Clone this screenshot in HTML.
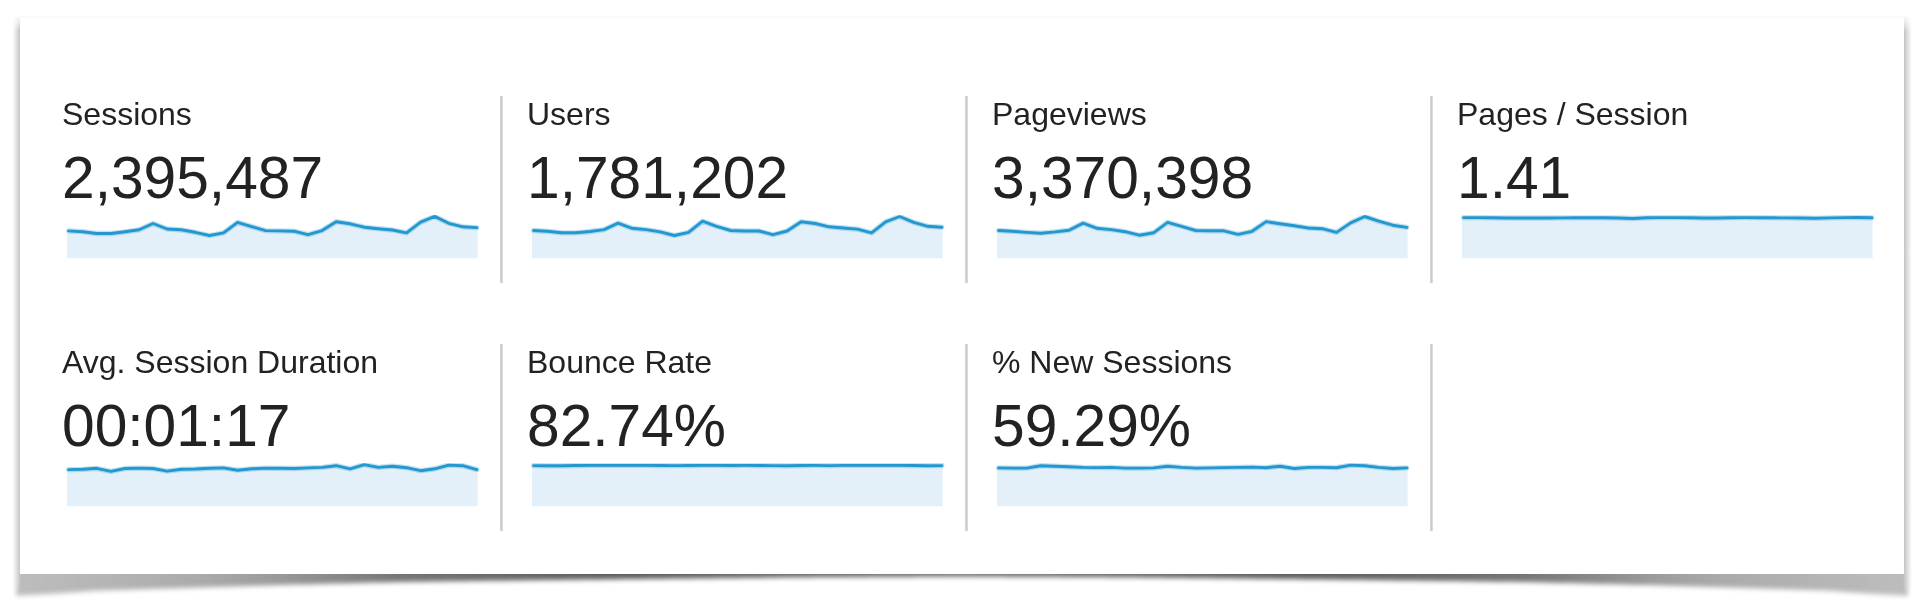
<!DOCTYPE html>
<html><head><meta charset="utf-8"><title>Audience Overview</title>
<style>
html,body{margin:0;padding:0;background:#fff;}
body{width:1920px;height:614px;overflow:hidden;position:relative;}
svg{position:absolute;left:0;top:0;will-change:transform;}
text{font-family:"Liberation Sans",Arial,sans-serif;fill:#222;}
</style></head>
<body>
<svg width="1920" height="614" viewBox="0 0 1920 614">
<defs>
<filter id="b1" x="-10%" y="-100%" width="120%" height="300%"><feGaussianBlur stdDeviation="1"/></filter>
<linearGradient id="gl" x1="0" y1="0" x2="1" y2="0"><stop offset="0" stop-color="#fafafa"/><stop offset="0.4" stop-color="#e6e6e6"/><stop offset="1" stop-color="#c2c2c2"/></linearGradient>
<linearGradient id="gr" x1="0" y1="0" x2="1" y2="0"><stop offset="0" stop-color="#c2c2c2"/><stop offset="0.6" stop-color="#e6e6e6"/><stop offset="1" stop-color="#fcfcfc"/></linearGradient>
<mask id="mfade" maskUnits="userSpaceOnUse" x="0" y="0" width="1920" height="614"><rect x="0" y="0" width="1920" height="614" fill="url(#gfade)"/></mask>
<linearGradient id="gfade" gradientUnits="userSpaceOnUse" x1="0" y1="17" x2="0" y2="597"><stop offset="0" stop-color="#000"/><stop offset="0.024" stop-color="#fff"/><stop offset="0.975" stop-color="#fff"/><stop offset="1" stop-color="#000"/></linearGradient>
<linearGradient id="gbs" gradientUnits="userSpaceOnUse" x1="16" y1="0" x2="1908" y2="0"><stop offset="0.0000" stop-color="#000" stop-opacity="0.260"/><stop offset="0.0127" stop-color="#000" stop-opacity="0.267"/><stop offset="0.0254" stop-color="#000" stop-opacity="0.276"/><stop offset="0.0381" stop-color="#000" stop-opacity="0.285"/><stop offset="0.0507" stop-color="#000" stop-opacity="0.295"/><stop offset="0.0634" stop-color="#000" stop-opacity="0.304"/><stop offset="0.0761" stop-color="#000" stop-opacity="0.314"/><stop offset="0.0888" stop-color="#000" stop-opacity="0.324"/><stop offset="0.1015" stop-color="#000" stop-opacity="0.337"/><stop offset="0.1142" stop-color="#000" stop-opacity="0.357"/><stop offset="0.1268" stop-color="#000" stop-opacity="0.377"/><stop offset="0.1395" stop-color="#000" stop-opacity="0.403"/><stop offset="0.1522" stop-color="#000" stop-opacity="0.430"/><stop offset="0.1649" stop-color="#000" stop-opacity="0.458"/><stop offset="0.1776" stop-color="#000" stop-opacity="0.485"/><stop offset="0.1903" stop-color="#000" stop-opacity="0.513"/><stop offset="0.2030" stop-color="#000" stop-opacity="0.540"/><stop offset="0.2156" stop-color="#000" stop-opacity="0.551"/><stop offset="0.2283" stop-color="#000" stop-opacity="0.562"/><stop offset="0.2410" stop-color="#000" stop-opacity="0.573"/><stop offset="0.2537" stop-color="#000" stop-opacity="0.585"/><stop offset="0.2664" stop-color="#000" stop-opacity="0.596"/><stop offset="0.2791" stop-color="#000" stop-opacity="0.607"/><stop offset="0.2918" stop-color="#000" stop-opacity="0.618"/><stop offset="0.3044" stop-color="#000" stop-opacity="0.629"/><stop offset="0.3171" stop-color="#000" stop-opacity="0.640"/><stop offset="0.3298" stop-color="#000" stop-opacity="0.635"/><stop offset="0.3425" stop-color="#000" stop-opacity="0.629"/><stop offset="0.3552" stop-color="#000" stop-opacity="0.624"/><stop offset="0.3679" stop-color="#000" stop-opacity="0.619"/><stop offset="0.3805" stop-color="#000" stop-opacity="0.614"/><stop offset="0.3932" stop-color="#000" stop-opacity="0.609"/><stop offset="0.4059" stop-color="#000" stop-opacity="0.603"/><stop offset="0.4186" stop-color="#000" stop-opacity="0.599"/><stop offset="0.4313" stop-color="#000" stop-opacity="0.596"/><stop offset="0.4440" stop-color="#000" stop-opacity="0.593"/><stop offset="0.4567" stop-color="#000" stop-opacity="0.590"/><stop offset="0.4693" stop-color="#000" stop-opacity="0.587"/><stop offset="0.4820" stop-color="#000" stop-opacity="0.584"/><stop offset="0.4947" stop-color="#000" stop-opacity="0.581"/><stop offset="0.5074" stop-color="#000" stop-opacity="0.582"/><stop offset="0.5201" stop-color="#000" stop-opacity="0.585"/><stop offset="0.5328" stop-color="#000" stop-opacity="0.588"/><stop offset="0.5455" stop-color="#000" stop-opacity="0.591"/><stop offset="0.5581" stop-color="#000" stop-opacity="0.594"/><stop offset="0.5708" stop-color="#000" stop-opacity="0.597"/><stop offset="0.5835" stop-color="#000" stop-opacity="0.600"/><stop offset="0.5962" stop-color="#000" stop-opacity="0.604"/><stop offset="0.6089" stop-color="#000" stop-opacity="0.610"/><stop offset="0.6216" stop-color="#000" stop-opacity="0.615"/><stop offset="0.6342" stop-color="#000" stop-opacity="0.620"/><stop offset="0.6469" stop-color="#000" stop-opacity="0.625"/><stop offset="0.6596" stop-color="#000" stop-opacity="0.630"/><stop offset="0.6723" stop-color="#000" stop-opacity="0.635"/><stop offset="0.6850" stop-color="#000" stop-opacity="0.639"/><stop offset="0.6977" stop-color="#000" stop-opacity="0.627"/><stop offset="0.7104" stop-color="#000" stop-opacity="0.616"/><stop offset="0.7230" stop-color="#000" stop-opacity="0.605"/><stop offset="0.7357" stop-color="#000" stop-opacity="0.594"/><stop offset="0.7484" stop-color="#000" stop-opacity="0.583"/><stop offset="0.7611" stop-color="#000" stop-opacity="0.572"/><stop offset="0.7738" stop-color="#000" stop-opacity="0.560"/><stop offset="0.7865" stop-color="#000" stop-opacity="0.549"/><stop offset="0.7992" stop-color="#000" stop-opacity="0.535"/><stop offset="0.8118" stop-color="#000" stop-opacity="0.508"/><stop offset="0.8245" stop-color="#000" stop-opacity="0.481"/><stop offset="0.8372" stop-color="#000" stop-opacity="0.453"/><stop offset="0.8499" stop-color="#000" stop-opacity="0.426"/><stop offset="0.8626" stop-color="#000" stop-opacity="0.398"/><stop offset="0.8753" stop-color="#000" stop-opacity="0.373"/><stop offset="0.8879" stop-color="#000" stop-opacity="0.353"/><stop offset="0.9006" stop-color="#000" stop-opacity="0.333"/><stop offset="0.9133" stop-color="#000" stop-opacity="0.322"/><stop offset="0.9260" stop-color="#000" stop-opacity="0.312"/><stop offset="0.9387" stop-color="#000" stop-opacity="0.303"/><stop offset="0.9514" stop-color="#000" stop-opacity="0.293"/><stop offset="0.9641" stop-color="#000" stop-opacity="0.284"/><stop offset="0.9767" stop-color="#000" stop-opacity="0.274"/><stop offset="0.9894" stop-color="#000" stop-opacity="0.265"/><stop offset="1.0000" stop-color="#000" stop-opacity="0.260"/></linearGradient><filter id="bsblur" x="-2%" y="-100%" width="104%" height="300%"><feGaussianBlur stdDeviation="2.2 2.4"/></filter>
<clipPath id="c0"><rect x="65" y="215.1" width="414.6" height="43.5"/></clipPath><clipPath id="c1"><rect x="530" y="215.1" width="414.6" height="43.5"/></clipPath><clipPath id="c2"><rect x="995" y="215.1" width="414.6" height="43.5"/></clipPath><clipPath id="c3"><rect x="1460" y="215.1" width="414.6" height="43.5"/></clipPath><clipPath id="c4"><rect x="65" y="463.1" width="414.6" height="43.5"/></clipPath><clipPath id="c5"><rect x="530" y="463.1" width="414.6" height="43.5"/></clipPath><clipPath id="c6"><rect x="995" y="463.1" width="414.6" height="43.5"/></clipPath>
</defs>
<!-- bottom curled shadow -->
<path d="M16,566 L1908,566 L1908,595.5 L1904,595.5 L1896,595.1 L1888,594.7 L1880,594.3 L1872,593.86 L1864,593.3 L1856,592.74 L1848,592.18 L1840,591.62 L1832,591.06 L1824,590.5 L1816,590.26 L1808,590.02 L1800,589.78 L1792,589.54 L1784,589.3 L1776,589.06 L1768,588.82 L1760,588.58 L1752,588.34 L1744,588.1 L1736,587.86 L1728,587.62 L1720,587.37 L1712,587.1 L1704,586.83 L1696,586.57 L1688,586.3 L1680,586.03 L1672,585.77 L1664,585.5 L1656,585.3 L1648,585.1 L1640,584.9 L1632,584.7 L1624,584.5 L1616,584.3 L1608,584.1 L1600,583.9 L1592,583.7 L1584,583.5 L1576,583.3 L1568,583.1 L1560,582.9 L1552,582.7 L1544,582.5 L1536,582.3 L1528,582.1 L1520,581.95 L1512,581.84 L1504,581.74 L1496,581.64 L1488,581.53 L1480,581.43 L1472,581.32 L1464,581.22 L1456,581.11 L1448,581.01 L1440,580.91 L1432,580.8 L1424,580.7 L1416,580.59 L1408,580.49 L1400,580.39 L1392,580.28 L1384,580.18 L1376,580.07 L1368,579.97 L1360,579.86 L1352,579.76 L1344,579.66 L1336,579.55 L1328,579.45 L1320,579.34 L1312,579.24 L1304,579.15 L1296,579.06 L1288,578.97 L1280,578.89 L1272,578.8 L1264,578.71 L1256,578.63 L1248,578.54 L1240,578.45 L1232,578.37 L1224,578.28 L1216,578.19 L1208,578.11 L1200,578.02 L1192,577.94 L1184,577.85 L1176,577.76 L1168,577.68 L1160,577.59 L1152,577.5 L1144,577.42 L1136,577.33 L1128,577.24 L1120,577.18 L1112,577.14 L1104,577.1 L1096,577.06 L1088,577.02 L1080,576.98 L1072,576.94 L1064,576.9 L1056,576.86 L1048,576.82 L1040,576.79 L1032,576.75 L1024,576.71 L1016,576.67 L1008,576.63 L1000,576.59 L992,576.55 L984,576.51 L976,576.47 L968,576.43 L960,576.41 L952,576.45 L944,576.49 L936,576.53 L928,576.57 L920,576.61 L912,576.65 L904,576.69 L896,576.73 L888,576.77 L880,576.8 L872,576.84 L864,576.88 L856,576.92 L848,576.96 L840,577 L832,577.04 L824,577.08 L816,577.12 L808,577.16 L800,577.2 L792,577.29 L784,577.37 L776,577.46 L768,577.55 L760,577.63 L752,577.72 L744,577.81 L736,577.89 L728,577.98 L720,578.06 L712,578.15 L704,578.24 L696,578.32 L688,578.41 L680,578.5 L672,578.58 L664,578.67 L656,578.76 L648,578.84 L640,578.93 L632,579.02 L624,579.1 L616,579.19 L608,579.29 L600,579.4 L592,579.5 L584,579.6 L576,579.71 L568,579.81 L560,579.92 L552,580.02 L544,580.12 L536,580.23 L528,580.33 L520,580.44 L512,580.54 L504,580.65 L496,580.75 L488,580.85 L480,580.96 L472,581.06 L464,581.17 L456,581.27 L448,581.37 L440,581.48 L432,581.58 L424,581.69 L416,581.79 L408,581.9 L400,582 L392,582.2 L384,582.4 L376,582.6 L368,582.8 L360,583 L352,583.2 L344,583.4 L336,583.6 L328,583.8 L320,584 L312,584.2 L304,584.4 L296,584.6 L288,584.8 L280,585 L272,585.2 L264,585.4 L256,585.63 L248,585.9 L240,586.17 L232,586.43 L224,586.7 L216,586.97 L208,587.23 L200,587.5 L192,587.74 L184,587.98 L176,588.22 L168,588.46 L160,588.7 L152,588.94 L144,589.18 L136,589.42 L128,589.66 L120,589.9 L112,590.14 L104,590.38 L96,590.78 L88,591.34 L80,591.9 L72,592.46 L64,593.02 L56,593.58 L48,594.1 L40,594.5 L32,594.9 L24,595.3 L16,595.5 Z" fill="url(#gbs)" filter="url(#bsblur)"/>
<!-- side shadows -->
<g mask="url(#mfade)">
<rect x="12.9" y="17" width="7.3" height="580" fill="url(#gl)"/>
<rect x="1903.8" y="17" width="7.8" height="580" fill="url(#gr)"/>
</g>
<!-- top faint shadow -->
<rect x="15" y="16.6" width="1893" height="3.6" fill="#000" fill-opacity="0.03" filter="url(#b1)"/>
<!-- card -->
<rect x="20" y="18" width="1884" height="556" fill="#fff"/>
<rect x="500.2" y="96" width="2.5" height="187" fill="#cbcbcb"/><rect x="965.2" y="96" width="2.5" height="187" fill="#cbcbcb"/><rect x="1430.2" y="96" width="2.5" height="187" fill="#cbcbcb"/><rect x="500.2" y="344" width="2.5" height="187" fill="#cbcbcb"/><rect x="965.2" y="344" width="2.5" height="187" fill="#cbcbcb"/><rect x="1430.2" y="344" width="2.5" height="187" fill="#cbcbcb"/>
<g clip-path="url(#c0)"><polygon points="67,230.9 68.6,230.9 82.68,231.7 96.76,233.5 110.84,233.5 124.92,231.8 139,229.8 153.08,223.5 167.16,229 181.24,229.8 195.32,232.3 209.4,235.5 223.48,232.9 237.56,222.3 251.64,226.6 265.72,230.6 279.8,230.9 293.88,231.2 307.96,234.6 322.04,230.6 336.12,221.7 350.2,223.8 364.28,227.2 378.36,228.7 392.44,230 406.52,232.8 420.6,222.2 434.68,216.4 448.76,223.3 462.84,226.8 476.92,227.6 477.6,227.6 477.6,258.6 67,258.6" fill="#e3f0f9"/><polyline points="68.6,230.9 82.68,231.7 96.76,233.5 110.84,233.5 124.92,231.8 139,229.8 153.08,223.5 167.16,229 181.24,229.8 195.32,232.3 209.4,235.5 223.48,232.9 237.56,222.3 251.64,226.6 265.72,230.6 279.8,230.9 293.88,231.2 307.96,234.6 322.04,230.6 336.12,221.7 350.2,223.8 364.28,227.2 378.36,228.7 392.44,230 406.52,232.8 420.6,222.2 434.68,216.4 448.76,223.3 462.84,226.8 476.92,227.6" fill="none" stroke="#2398d0" stroke-opacity="0.28" stroke-width="5.3" stroke-linejoin="round" stroke-linecap="round"/><polyline points="68.6,230.9 82.68,231.7 96.76,233.5 110.84,233.5 124.92,231.8 139,229.8 153.08,223.5 167.16,229 181.24,229.8 195.32,232.3 209.4,235.5 223.48,232.9 237.56,222.3 251.64,226.6 265.72,230.6 279.8,230.9 293.88,231.2 307.96,234.6 322.04,230.6 336.12,221.7 350.2,223.8 364.28,227.2 378.36,228.7 392.44,230 406.52,232.8 420.6,222.2 434.68,216.4 448.76,223.3 462.84,226.8 476.92,227.6" fill="none" stroke="#2398d0" stroke-width="2.9" stroke-linejoin="round" stroke-linecap="round"/></g><g clip-path="url(#c1)"><polygon points="532,230.5 533.6,230.5 547.68,231.3 561.76,232.8 575.84,232.8 589.92,231.5 604,229.6 618.08,223.1 632.16,228.3 646.24,229.6 660.32,231.9 674.4,235.5 688.48,232.4 702.56,221.2 716.64,226.3 730.72,230.5 744.8,231 758.88,231 772.96,234.7 787.04,231 801.12,221.8 815.2,223.5 829.28,226.8 843.36,228 857.44,229.1 871.52,232.8 885.6,221.8 899.68,216.5 913.76,222.4 927.84,226.3 941.92,227.2 942.6,227.2 942.6,258.6 532,258.6" fill="#e3f0f9"/><polyline points="533.6,230.5 547.68,231.3 561.76,232.8 575.84,232.8 589.92,231.5 604,229.6 618.08,223.1 632.16,228.3 646.24,229.6 660.32,231.9 674.4,235.5 688.48,232.4 702.56,221.2 716.64,226.3 730.72,230.5 744.8,231 758.88,231 772.96,234.7 787.04,231 801.12,221.8 815.2,223.5 829.28,226.8 843.36,228 857.44,229.1 871.52,232.8 885.6,221.8 899.68,216.5 913.76,222.4 927.84,226.3 941.92,227.2" fill="none" stroke="#2398d0" stroke-opacity="0.28" stroke-width="5.3" stroke-linejoin="round" stroke-linecap="round"/><polyline points="533.6,230.5 547.68,231.3 561.76,232.8 575.84,232.8 589.92,231.5 604,229.6 618.08,223.1 632.16,228.3 646.24,229.6 660.32,231.9 674.4,235.5 688.48,232.4 702.56,221.2 716.64,226.3 730.72,230.5 744.8,231 758.88,231 772.96,234.7 787.04,231 801.12,221.8 815.2,223.5 829.28,226.8 843.36,228 857.44,229.1 871.52,232.8 885.6,221.8 899.68,216.5 913.76,222.4 927.84,226.3 941.92,227.2" fill="none" stroke="#2398d0" stroke-width="2.9" stroke-linejoin="round" stroke-linecap="round"/></g><g clip-path="url(#c2)"><polygon points="997,230.5 998.6,230.5 1012.68,231.3 1026.76,232.4 1040.84,233.2 1054.92,231.9 1069,230.2 1083.08,223.1 1097.16,228.3 1111.24,229.6 1125.32,231.7 1139.4,235.2 1153.48,232.8 1167.56,222.4 1181.64,226.3 1195.72,230.5 1209.8,230.8 1223.88,230.8 1237.96,234.3 1252.04,231.3 1266.12,221.6 1280.2,223.8 1294.28,225.7 1308.36,228 1322.44,228.7 1336.52,232.4 1350.6,222.9 1364.68,216.5 1378.76,221.2 1392.84,225.2 1406.92,227.4 1407.6,227.4 1407.6,258.6 997,258.6" fill="#e3f0f9"/><polyline points="998.6,230.5 1012.68,231.3 1026.76,232.4 1040.84,233.2 1054.92,231.9 1069,230.2 1083.08,223.1 1097.16,228.3 1111.24,229.6 1125.32,231.7 1139.4,235.2 1153.48,232.8 1167.56,222.4 1181.64,226.3 1195.72,230.5 1209.8,230.8 1223.88,230.8 1237.96,234.3 1252.04,231.3 1266.12,221.6 1280.2,223.8 1294.28,225.7 1308.36,228 1322.44,228.7 1336.52,232.4 1350.6,222.9 1364.68,216.5 1378.76,221.2 1392.84,225.2 1406.92,227.4" fill="none" stroke="#2398d0" stroke-opacity="0.28" stroke-width="5.3" stroke-linejoin="round" stroke-linecap="round"/><polyline points="998.6,230.5 1012.68,231.3 1026.76,232.4 1040.84,233.2 1054.92,231.9 1069,230.2 1083.08,223.1 1097.16,228.3 1111.24,229.6 1125.32,231.7 1139.4,235.2 1153.48,232.8 1167.56,222.4 1181.64,226.3 1195.72,230.5 1209.8,230.8 1223.88,230.8 1237.96,234.3 1252.04,231.3 1266.12,221.6 1280.2,223.8 1294.28,225.7 1308.36,228 1322.44,228.7 1336.52,232.4 1350.6,222.9 1364.68,216.5 1378.76,221.2 1392.84,225.2 1406.92,227.4" fill="none" stroke="#2398d0" stroke-width="2.9" stroke-linejoin="round" stroke-linecap="round"/></g><g clip-path="url(#c3)"><polygon points="1462,217.6 1463.6,217.6 1477.68,217.6 1491.76,217.8 1505.84,218 1519.92,218 1534,218 1548.08,218 1562.16,217.9 1576.24,217.8 1590.32,217.8 1604.4,217.8 1618.48,218 1632.56,218.5 1646.64,217.8 1660.72,217.6 1674.8,217.6 1688.88,217.7 1702.96,218 1717.04,218 1731.12,217.7 1745.2,217.6 1759.28,217.7 1773.36,217.8 1787.44,217.9 1801.52,218 1815.6,218.3 1829.68,217.9 1843.76,217.6 1857.84,217.5 1871.92,217.8 1872.6,217.8 1872.6,258.6 1462,258.6" fill="#e3f0f9"/><polyline points="1463.6,217.6 1477.68,217.6 1491.76,217.8 1505.84,218 1519.92,218 1534,218 1548.08,218 1562.16,217.9 1576.24,217.8 1590.32,217.8 1604.4,217.8 1618.48,218 1632.56,218.5 1646.64,217.8 1660.72,217.6 1674.8,217.6 1688.88,217.7 1702.96,218 1717.04,218 1731.12,217.7 1745.2,217.6 1759.28,217.7 1773.36,217.8 1787.44,217.9 1801.52,218 1815.6,218.3 1829.68,217.9 1843.76,217.6 1857.84,217.5 1871.92,217.8" fill="none" stroke="#2398d0" stroke-opacity="0.28" stroke-width="5.3" stroke-linejoin="round" stroke-linecap="round"/><polyline points="1463.6,217.6 1477.68,217.6 1491.76,217.8 1505.84,218 1519.92,218 1534,218 1548.08,218 1562.16,217.9 1576.24,217.8 1590.32,217.8 1604.4,217.8 1618.48,218 1632.56,218.5 1646.64,217.8 1660.72,217.6 1674.8,217.6 1688.88,217.7 1702.96,218 1717.04,218 1731.12,217.7 1745.2,217.6 1759.28,217.7 1773.36,217.8 1787.44,217.9 1801.52,218 1815.6,218.3 1829.68,217.9 1843.76,217.6 1857.84,217.5 1871.92,217.8" fill="none" stroke="#2398d0" stroke-width="2.9" stroke-linejoin="round" stroke-linecap="round"/></g><g clip-path="url(#c4)"><polygon points="67,469.6 68.6,469.6 82.68,469.3 96.76,468.3 110.84,471.3 124.92,468.5 139,468.1 153.08,468.5 167.16,471.1 181.24,469.3 195.32,469 209.4,468.3 223.48,467.9 237.56,470.2 251.64,468.8 265.72,468.1 279.8,468.3 293.88,468.5 307.96,467.9 322.04,467.4 336.12,465.7 350.2,468.8 364.28,464.6 378.36,467.4 392.44,466.2 406.52,467.7 420.6,470.7 434.68,468.8 448.76,465.1 462.84,465.7 476.92,469.6 477.6,469.6 477.6,506.6 67,506.6" fill="#e3f0f9"/><polyline points="68.6,469.6 82.68,469.3 96.76,468.3 110.84,471.3 124.92,468.5 139,468.1 153.08,468.5 167.16,471.1 181.24,469.3 195.32,469 209.4,468.3 223.48,467.9 237.56,470.2 251.64,468.8 265.72,468.1 279.8,468.3 293.88,468.5 307.96,467.9 322.04,467.4 336.12,465.7 350.2,468.8 364.28,464.6 378.36,467.4 392.44,466.2 406.52,467.7 420.6,470.7 434.68,468.8 448.76,465.1 462.84,465.7 476.92,469.6" fill="none" stroke="#2398d0" stroke-opacity="0.28" stroke-width="5.3" stroke-linejoin="round" stroke-linecap="round"/><polyline points="68.6,469.6 82.68,469.3 96.76,468.3 110.84,471.3 124.92,468.5 139,468.1 153.08,468.5 167.16,471.1 181.24,469.3 195.32,469 209.4,468.3 223.48,467.9 237.56,470.2 251.64,468.8 265.72,468.1 279.8,468.3 293.88,468.5 307.96,467.9 322.04,467.4 336.12,465.7 350.2,468.8 364.28,464.6 378.36,467.4 392.44,466.2 406.52,467.7 420.6,470.7 434.68,468.8 448.76,465.1 462.84,465.7 476.92,469.6" fill="none" stroke="#2398d0" stroke-width="2.9" stroke-linejoin="round" stroke-linecap="round"/></g><g clip-path="url(#c5)"><polygon points="532,465.6 533.6,465.6 547.68,465.8 561.76,465.8 575.84,465.5 589.92,465.4 604,465.4 618.08,465.4 632.16,465.4 646.24,465.4 660.32,465.5 674.4,465.6 688.48,465.5 702.56,465.4 716.64,465.4 730.72,465.5 744.8,465.4 758.88,465.5 772.96,465.6 787.04,465.8 801.12,465.5 815.2,465.4 829.28,465.6 843.36,465.4 857.44,465.4 871.52,465.4 885.6,465.4 899.68,465.4 913.76,465.5 927.84,465.7 941.92,465.6 942.6,465.6 942.6,506.6 532,506.6" fill="#e3f0f9"/><polyline points="533.6,465.6 547.68,465.8 561.76,465.8 575.84,465.5 589.92,465.4 604,465.4 618.08,465.4 632.16,465.4 646.24,465.4 660.32,465.5 674.4,465.6 688.48,465.5 702.56,465.4 716.64,465.4 730.72,465.5 744.8,465.4 758.88,465.5 772.96,465.6 787.04,465.8 801.12,465.5 815.2,465.4 829.28,465.6 843.36,465.4 857.44,465.4 871.52,465.4 885.6,465.4 899.68,465.4 913.76,465.5 927.84,465.7 941.92,465.6" fill="none" stroke="#2398d0" stroke-opacity="0.28" stroke-width="5.3" stroke-linejoin="round" stroke-linecap="round"/><polyline points="533.6,465.6 547.68,465.8 561.76,465.8 575.84,465.5 589.92,465.4 604,465.4 618.08,465.4 632.16,465.4 646.24,465.4 660.32,465.5 674.4,465.6 688.48,465.5 702.56,465.4 716.64,465.4 730.72,465.5 744.8,465.4 758.88,465.5 772.96,465.6 787.04,465.8 801.12,465.5 815.2,465.4 829.28,465.6 843.36,465.4 857.44,465.4 871.52,465.4 885.6,465.4 899.68,465.4 913.76,465.5 927.84,465.7 941.92,465.6" fill="none" stroke="#2398d0" stroke-width="2.9" stroke-linejoin="round" stroke-linecap="round"/></g><g clip-path="url(#c6)"><polygon points="997,467.9 998.6,467.9 1012.68,468.1 1026.76,468.1 1040.84,465.7 1054.92,466.2 1069,466.8 1083.08,467.4 1097.16,467.6 1111.24,467.4 1125.32,468.1 1139.4,468.1 1153.48,467.9 1167.56,466.2 1181.64,467.4 1195.72,468.1 1209.8,467.9 1223.88,467.6 1237.96,467.4 1252.04,467.1 1266.12,467.7 1280.2,466.2 1294.28,468.5 1308.36,467.4 1322.44,467.4 1336.52,467.7 1350.6,465.1 1364.68,465.7 1378.76,467.4 1392.84,468.5 1406.92,467.9 1407.6,467.9 1407.6,506.6 997,506.6" fill="#e3f0f9"/><polyline points="998.6,467.9 1012.68,468.1 1026.76,468.1 1040.84,465.7 1054.92,466.2 1069,466.8 1083.08,467.4 1097.16,467.6 1111.24,467.4 1125.32,468.1 1139.4,468.1 1153.48,467.9 1167.56,466.2 1181.64,467.4 1195.72,468.1 1209.8,467.9 1223.88,467.6 1237.96,467.4 1252.04,467.1 1266.12,467.7 1280.2,466.2 1294.28,468.5 1308.36,467.4 1322.44,467.4 1336.52,467.7 1350.6,465.1 1364.68,465.7 1378.76,467.4 1392.84,468.5 1406.92,467.9" fill="none" stroke="#2398d0" stroke-opacity="0.28" stroke-width="5.3" stroke-linejoin="round" stroke-linecap="round"/><polyline points="998.6,467.9 1012.68,468.1 1026.76,468.1 1040.84,465.7 1054.92,466.2 1069,466.8 1083.08,467.4 1097.16,467.6 1111.24,467.4 1125.32,468.1 1139.4,468.1 1153.48,467.9 1167.56,466.2 1181.64,467.4 1195.72,468.1 1209.8,467.9 1223.88,467.6 1237.96,467.4 1252.04,467.1 1266.12,467.7 1280.2,466.2 1294.28,468.5 1308.36,467.4 1322.44,467.4 1336.52,467.7 1350.6,465.1 1364.68,465.7 1378.76,467.4 1392.84,468.5 1406.92,467.9" fill="none" stroke="#2398d0" stroke-width="2.9" stroke-linejoin="round" stroke-linecap="round"/></g>
<text x="62" y="125" font-size="32">Sessions</text><text x="62" y="198" font-size="58.7">2,395,487</text><text x="527" y="125" font-size="32">Users</text><text x="527" y="198" font-size="58.7">1,781,202</text><text x="992" y="125" font-size="32">Pageviews</text><text x="992" y="198" font-size="58.7">3,370,398</text><text x="1457" y="125" font-size="32">Pages / Session</text><text x="1457" y="198" font-size="58.7">1.41</text><text x="62" y="373" font-size="32">Avg. Session Duration</text><text x="62" y="446" font-size="58.7">00:01:17</text><text x="527" y="373" font-size="32">Bounce Rate</text><text x="527" y="446" font-size="58.7">82.74%</text><text x="992" y="373" font-size="32">% New Sessions</text><text x="992" y="446" font-size="58.7">59.29%</text>
</svg>
</body></html>
